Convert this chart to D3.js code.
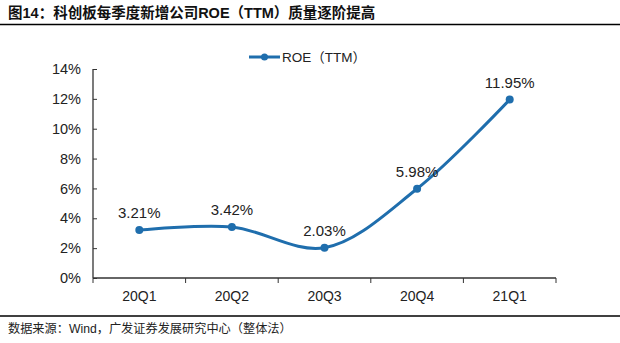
<!DOCTYPE html>
<html><head><meta charset="utf-8">
<script src="https://cdn.jsdelivr.net/npm/d3@7/dist/d3.min.js"></script>
<style>body{margin:0;background:#fff}svg{display:block}</style>
</head><body>
<svg id="c" width="620" height="343"></svg>
<script>
const categories = ["20Q1","20Q2","20Q3","20Q4","21Q1"];
const roeValues = [3.21, 3.42, 2.03, 5.98, 11.95];
const valueLabels = ["3.21%","3.42%","2.03%","5.98%","11.95%"];
const yTicks = [0,2,4,6,8,10,12,14];
const seriesName = "ROE（TTM）";
const titleText = "图14：科创板每季度新增公司ROE（TTM）质量逐阶提高";
const sourceText = "数据来源：Wind，广发证券发展研究中心（整体法）";

const svg = d3.select("#c");
const latin = "'Liberation Sans', Arial, 'Noto Sans CJK SC', sans-serif";
const cjk = "'Liberation Sans', 'Noto Sans CJK SC', sans-serif";
const color = "#1f6ead";

svg.append("text").attr("x",8).attr("y",18).attr("font-family",cjk)
  .attr("font-weight","bold").attr("font-size",14.5).attr("fill","#111").text(titleText);
svg.append("line").attr("x1",0).attr("x2",620).attr("y1",24.5).attr("y2",24.5)
  .attr("stroke","#000").attr("stroke-width",1.5);
svg.append("line").attr("x1",0).attr("x2",620).attr("y1",316).attr("y2",316)
  .attr("stroke","#000").attr("stroke-width",1.5);
svg.append("text").attr("x",8).attr("y",333).attr("font-family",cjk)
  .attr("font-size",12.2).attr("fill","#222").text(sourceText);

const x = d3.scaleBand().domain(categories).range([93,556]);
const y = d3.scaleLinear().domain([0,14]).range([278,69]);

const yAxis = svg.append("g").attr("transform","translate(93,0)")
  .call(d3.axisRight(y).tickValues(yTicks).tickSize(4).tickFormat(d=>d+"%"));
yAxis.selectAll("text").attr("x",-12).attr("text-anchor","end");
const xAxis = svg.append("g").attr("transform","translate(0,278)")
  .call(d3.axisBottom(x).tickSize(0));
const bounds = d3.range(categories.length+1).map(i=>93 + i*x.bandwidth());
xAxis.selectAll(".bt").data(bounds).enter().append("line")
  .attr("x1",d=>d).attr("x2",d=>d).attr("y1",0).attr("y2",5).attr("stroke","#333");
xAxis.selectAll(".tick text").attr("dy","1.4em");
[yAxis,xAxis].forEach(g=>{
  g.selectAll("text").attr("font-family",latin).attr("font-size",14.5).attr("fill","#222");
  g.selectAll("path.domain").attr("stroke","#333").attr("stroke-width",1.3);
  g.selectAll(".tick line").attr("stroke","#333");
});
xAxis.selectAll("text").attr("font-size",14);
yAxis.select("path.domain").attr("d","M0,69V278");
xAxis.select("path.domain").attr("d","M93,0H556");

const pts = categories.map((c,i)=>[x(c)+x.bandwidth()/2, y(roeValues[i])]);
svg.append("path").attr("d", d3.line().curve(d3.curveCatmullRom.alpha(0.5))(pts))
  .attr("fill","none").attr("stroke",color).attr("stroke-width",3);
svg.selectAll(".pt").data(pts).enter().append("circle")
  .attr("cx",d=>d[0]).attr("cy",d=>d[1]).attr("r",4).attr("fill",color);
svg.selectAll(".lbl").data(pts).enter().append("text")
  .attr("x",d=>d[0]).attr("y",d=>d[1]-12).attr("text-anchor","middle")
  .attr("font-family",latin).attr("font-size",15).attr("fill","#222")
  .text((d,i)=>valueLabels[i]);

svg.append("line").attr("x1",249).attr("x2",280).attr("y1",57).attr("y2",57)
  .attr("stroke",color).attr("stroke-width",3);
svg.append("circle").attr("cx",264.5).attr("cy",57).attr("r",3.5).attr("fill",color);
svg.append("text").attr("x",282).attr("y",62).attr("font-family",cjk)
  .attr("font-size",13.5).attr("fill","#222").text(seriesName);
</script>
</body></html>
